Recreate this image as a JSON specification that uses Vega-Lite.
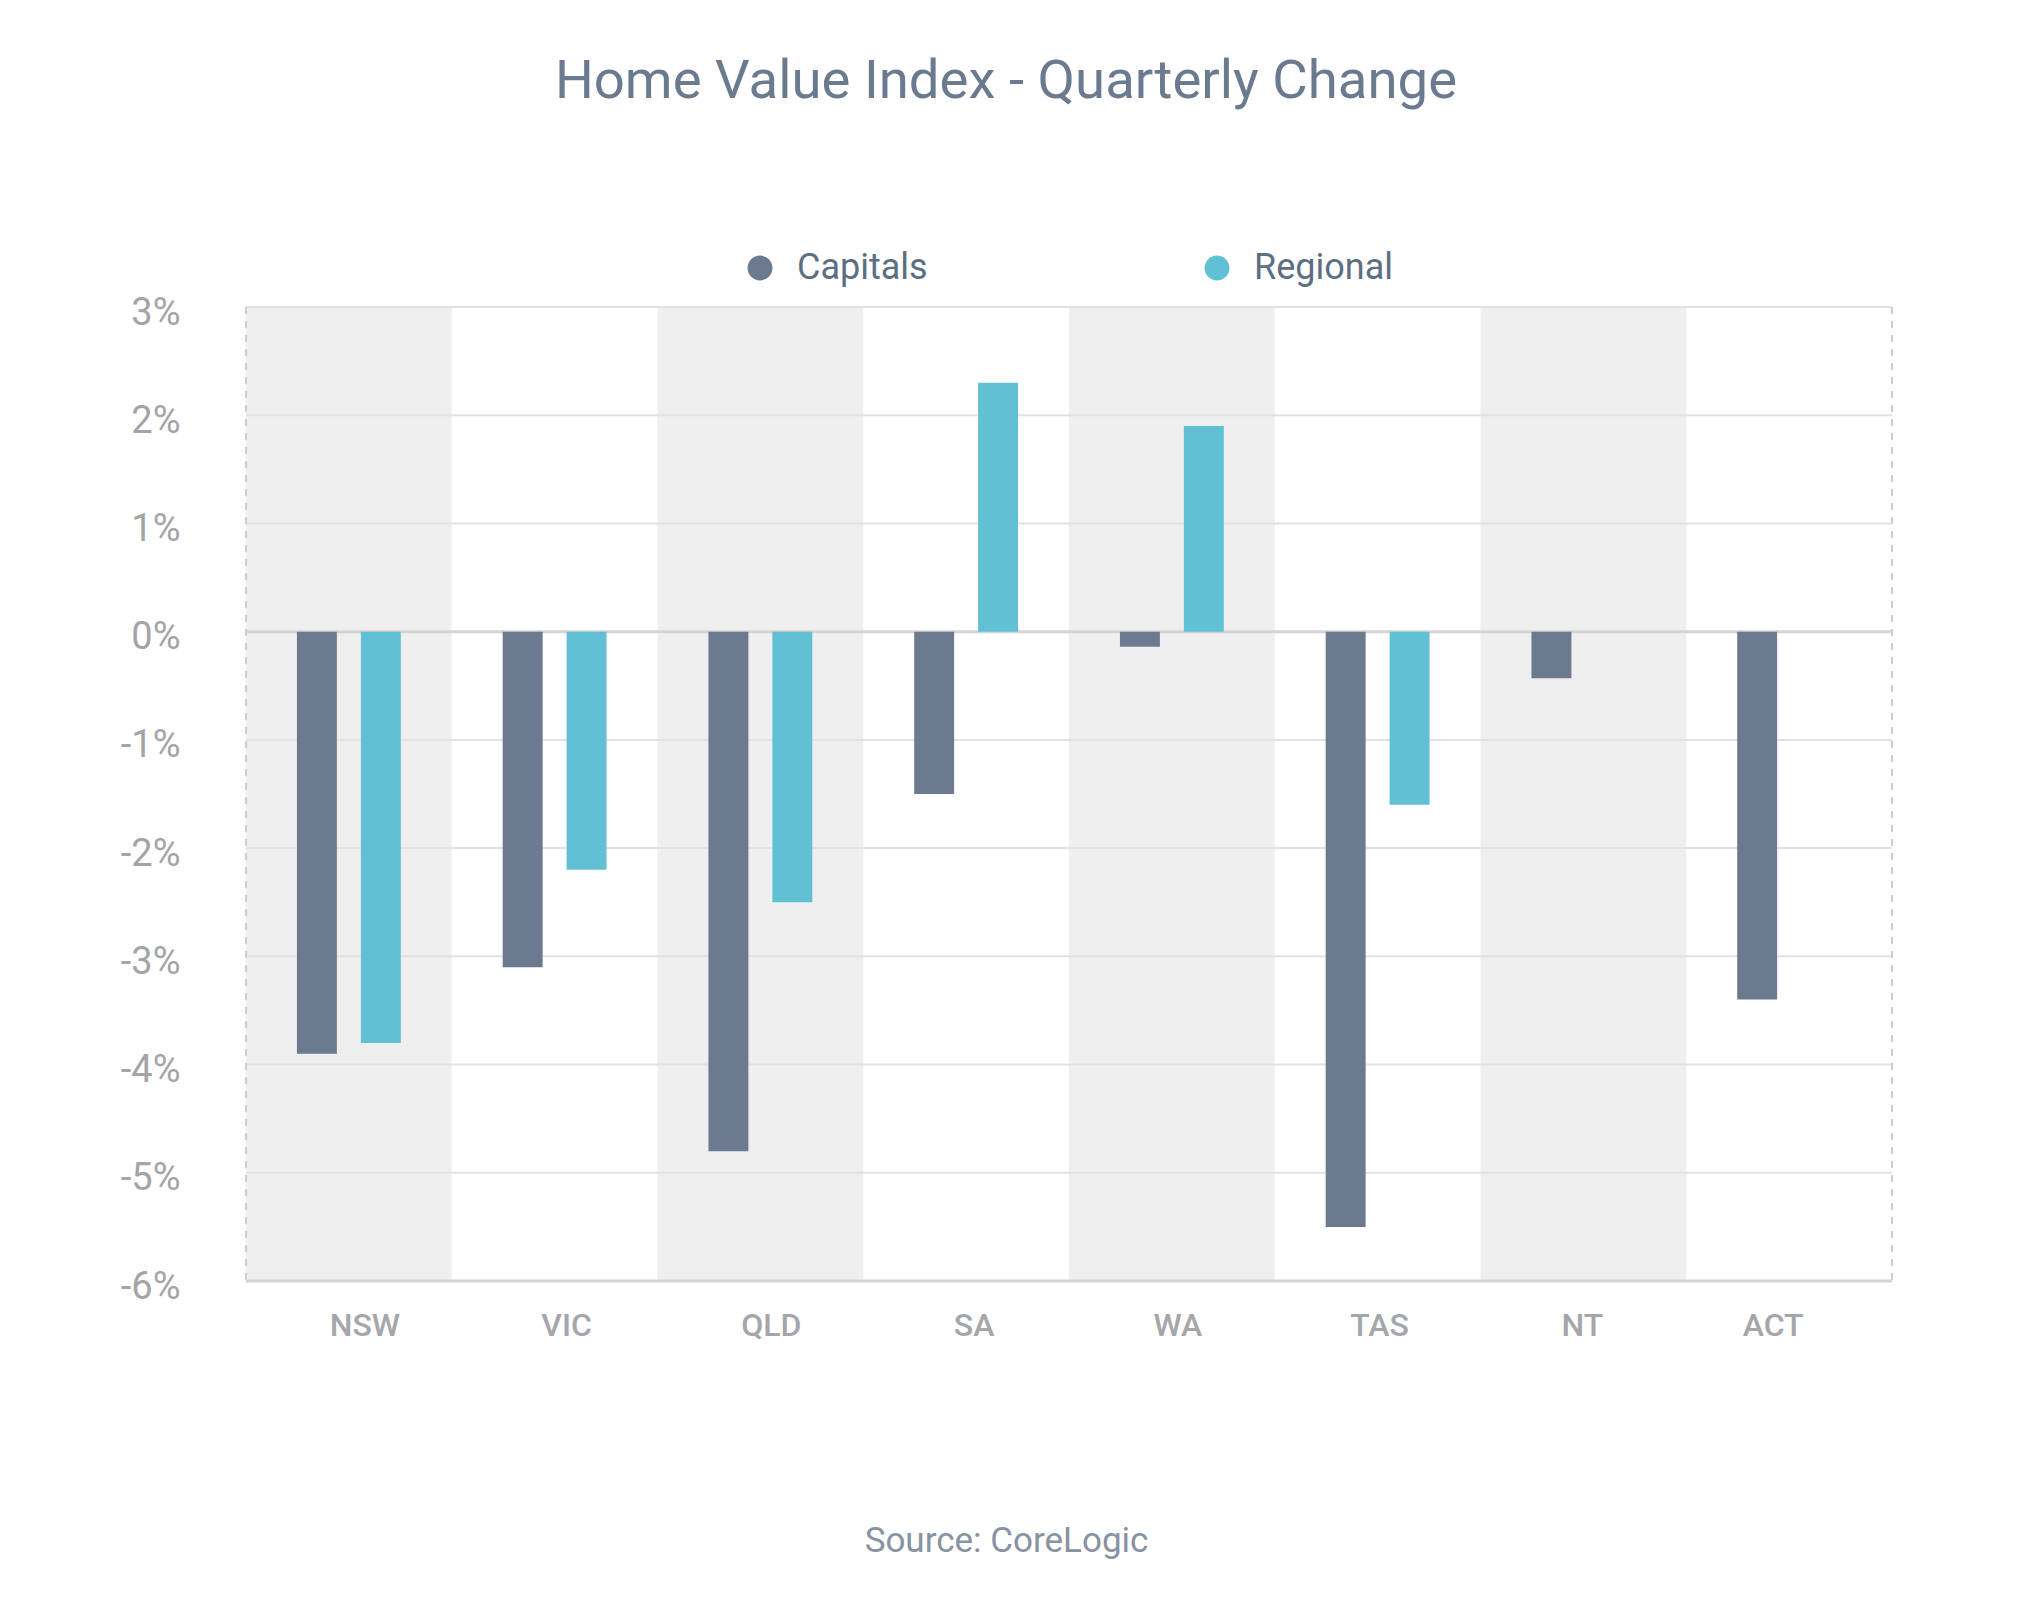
{
  "$schema": "https://vega.github.io/schema/vega-lite/v6.json",
  "autosize": "none",
  "width": 1646,
  "height": 974,
  "padding": {"left": 246, "top": 307, "right": 150, "bottom": 319},
  "background": "white",
  "config": {
    "view": {"stroke": null},
    "font": "Roboto"
  },
  "title": {
    "text": "Home Value Index - Quarterly Change",
    "font": "Roboto",
    "fontSize": 54.5,
    "fontWeight": "normal",
    "color": "#6b7a8f",
    "anchor": "middle",
    "frame": "group",
    "baseline": "alphabetic",
    "dx": -63,
    "offset": 98
  },
  "datasets": {
    "bars": [
      {"state": "NSW", "series": "Capitals", "value": -3.9},
      {"state": "NSW", "series": "Regional", "value": -3.8},
      {"state": "VIC", "series": "Capitals", "value": -3.1},
      {"state": "VIC", "series": "Regional", "value": -2.2},
      {"state": "QLD", "series": "Capitals", "value": -4.8},
      {"state": "QLD", "series": "Regional", "value": -2.5},
      {"state": "SA", "series": "Capitals", "value": -1.5},
      {"state": "SA", "series": "Regional", "value": 2.3},
      {"state": "WA", "series": "Capitals", "value": -0.14},
      {"state": "WA", "series": "Regional", "value": 1.9},
      {"state": "TAS", "series": "Capitals", "value": -5.5},
      {"state": "TAS", "series": "Regional", "value": -1.6},
      {"state": "NT", "series": "Capitals", "value": -0.43},
      {"state": "ACT", "series": "Capitals", "value": -3.4}
    ],
    "shaded": [
      {"state": "NSW"}, {"state": "QLD"}, {"state": "WA"}, {"state": "NT"}
    ],
    "grid": [
      {"v": 3}, {"v": 2}, {"v": 1}, {"v": 0}, {"v": -1}, {"v": -2}, {"v": -3}, {"v": -4}, {"v": -5}, {"v": -6}
    ],
    "leftEdge": [{"state": "NSW"}],
    "rightEdge": [{"state": "ACT"}]
  },
  "layer": [
    {
      "data": {"name": "shaded"},
      "mark": {"type": "rect", "color": "#efefef"},
      "encoding": {
        "x": {
          "field": "state",
          "type": "nominal",
          "scale": {"domain": ["NSW", "VIC", "QLD", "SA", "WA", "TAS", "NT", "ACT"], "paddingInner": 0, "paddingOuter": 0},
          "axis": {
            "orient": "bottom",
            "title": "Source: CoreLogic",
            "titleFont": "Roboto",
            "titleFontSize": 35,
            "titleFontWeight": "normal",
            "titleColor": "#8792a2",
            "titleX": 760,
            "titleY": 270,
            "titleAlign": "center",
            "titleBaseline": "alphabetic",
            "labelAngle": 0,
            "labelFont": "Roboto",
            "labelFontSize": 32,
            "labelFontWeight": 500,
            "labelColor": "#a5a6aa",
            "labelBaseline": "alphabetic",
            "labelPadding": 54,
            "labelOffset": {
              "condition": [
                {"test": "datum.value === 'NSW'", "value": 16},
                {"test": "datum.value === 'VIC'", "value": 12},
                {"test": "datum.value === 'QLD'", "value": 11},
                {"test": "datum.value === 'SA'", "value": 8},
                {"test": "datum.value === 'WA'", "value": 6},
                {"test": "datum.value === 'TAS'", "value": 2},
                {"test": "datum.value === 'NT'", "value": -1}
              ],
              "value": -16
            },
            "ticks": false,
            "tickSize": 0,
            "domain": false,
            "grid": false
          }
        },
        "y": {"datum": 3, "type": "quantitative"},
        "y2": {"datum": -6}
      }
    },
    {
      "data": {"name": "grid"},
      "mark": {"type": "rule"},
      "encoding": {
        "y": {"field": "v", "type": "quantitative"},
        "color": {
          "condition": {"test": "datum.v === 0 || datum.v === -6", "value": "#d4d4d4"},
          "value": "#e2e2e2"
        },
        "strokeWidth": {
          "condition": {"test": "datum.v === 0 || datum.v === -6", "value": 3},
          "value": 2
        }
      }
    },
    {
      "data": {"name": "leftEdge"},
      "mark": {"type": "rule", "color": "#cdcdcd", "strokeWidth": 2, "strokeDash": [7, 7]},
      "encoding": {
        "x": {"field": "state", "type": "nominal", "bandPosition": 0}
      }
    },
    {
      "data": {"name": "rightEdge"},
      "mark": {"type": "rule", "color": "#cdcdcd", "strokeWidth": 2, "strokeDash": [7, 7]},
      "encoding": {
        "x": {"field": "state", "type": "nominal", "bandPosition": 1}
      }
    },
    {
      "data": {"name": "bars"},
      "mark": {"type": "bar"},
      "encoding": {
        "x": {"field": "state", "type": "nominal"},
        "xOffset": {
          "field": "series",
          "type": "nominal",
          "scale": {"domain": ["Capitals", "Regional"], "paddingInner": 0.375, "paddingOuter": 0.797}
        },
        "y": {
          "field": "value",
          "type": "quantitative",
          "scale": {"domain": [-6, 3], "nice": false, "zero": false},
          "axis": {
            "title": null,
            "values": [-6, -5, -4, -3, -2, -1, 0, 1, 2, 3],
            "labelExpr": "datum.value + '%'",
            "labelFont": "Roboto",
            "labelFontSize": 38,
            "labelColor": "#a3a4a8",
            "labelPadding": 66,
            "labelOffset": 6,
            "labelAlign": "right",
            "labelBaseline": "middle",
            "ticks": false,
            "tickSize": 0,
            "domain": false,
            "grid": false
          }
        },
        "color": {
          "field": "series",
          "type": "nominal",
          "scale": {"domain": ["Capitals", "Regional"], "range": ["#6b7a8f", "#62c0d5"]},
          "legend": {
            "title": null,
            "orient": "none",
            "direction": "horizontal",
            "legendX": 496,
            "legendY": -57,
            "padding": 0,
            "symbolType": "circle",
            "symbolSize": 620,
            "symbolStrokeWidth": 0,
            "labelFont": "Roboto",
            "labelFontSize": 36,
            "labelColor": "#5c6f82",
            "labelOffset": 19,
            "columnPadding": 271,
            "encode": {
              "symbols": {
                "update": {
                  "fill": {"signal": "datum.value === 'Capitals' ? '#8c8c8c' : '#00b8cf'"},
                  "stroke": {"value": "transparent"},
                  "opacity": {"value": 1}
                }
              }
            }
          }
        }
      }
    }
  ]
}
